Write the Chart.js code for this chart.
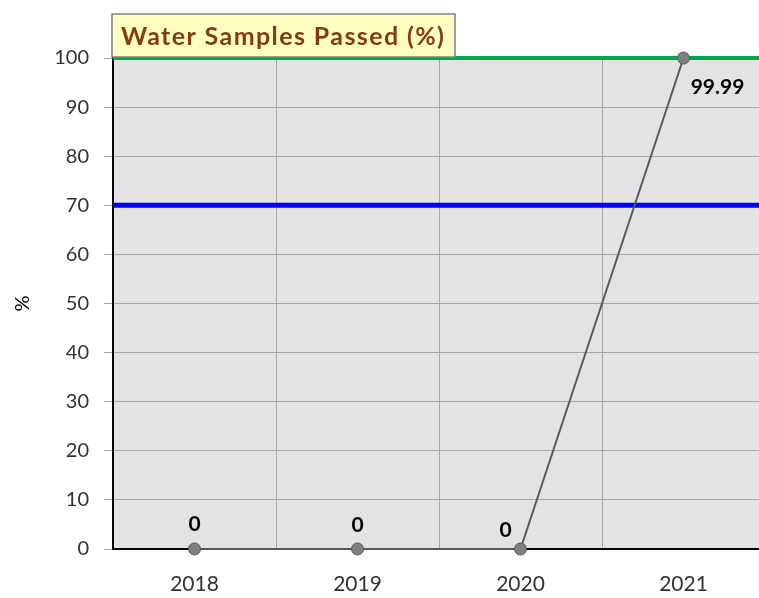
<!DOCTYPE html>
<html>
<head>
<meta charset="utf-8">
<script src="https://cdn.jsdelivr.net/npm/chart.js@4"></script>
<style>
  html, body { margin: 0; padding: 0; background: #fff; overflow: hidden; }
  #wrap { position: relative; width: 772px; height: 598px; }
</style>
</head>
<body>
<div id="wrap"><canvas id="waterChart"></canvas></div>
<script>
const years = ['2018', '2019', '2020', '2021'];
const passedPct = [0, 0, 0, 99.99];
const yTicks = [0, 10, 20, 30, 40, 50, 60, 70, 80, 90, 100];
const targetPct = [70];
const maxPct = [100];
const chartTitle = 'Water Samples Passed (%)';

// grey plot background
const plotBg = {
    id: 'plotBg',
    beforeDraw(chart) {
        const { ctx, chartArea: a } = chart;
        ctx.save();
        ctx.fillStyle = '#e3e3e3';
        ctx.fillRect(a.left, a.top, a.right - a.left, a.bottom - a.top);
        ctx.restore();
    }
};

// the two reference lines at 70 and 100
const refLines = {
    id: 'refLines',
    beforeDatasetsDraw(chart) {
        const { ctx, chartArea: a, scales } = chart;
        const draw = (v, color, w) => {
            const y = scales.y.getPixelForValue(v);
            ctx.save();
            ctx.strokeStyle = color;
            ctx.lineWidth = w;
            ctx.beginPath();
            ctx.moveTo(a.left, y);
            ctx.lineTo(a.right, y);
            ctx.stroke();
            ctx.restore();
        };
        targetPct.forEach(v => draw(v, '#0000ff', 5));
        maxPct.forEach(v => draw(v, '#00a650', 4));
    }
};

// point value labels + title box
const labelsAndTitle = {
    id: 'labelsAndTitle',
    afterDraw(chart) {
        const { ctx } = chart;
        const pts = chart.getDatasetMeta(0).data;
        const offs = [[0, -25], [0, -24], [-15, -19], [34, 29]];
        ctx.save();
        ctx.font = 'bold 21px Lato, "Open Sans", sans-serif';
        ctx.fillStyle = '#000';
        ctx.textAlign = 'center';
        ctx.textBaseline = 'middle';
        pts.forEach((p, i) => {
            const o = offs[i] || [0, -20];
            ctx.fillText(String(passedPct[i]), p.x + o[0], p.y + o[1]);
        });

        // title box
        ctx.fillStyle = '#ffffc3';
        ctx.strokeStyle = '#808080';
        ctx.lineWidth = 1.5;
        ctx.fillRect(112, 14, 343, 43);
        ctx.strokeRect(112, 14, 343, 43);
        ctx.font = 'bold 25px Lato, "Open Sans", sans-serif';
        ctx.letterSpacing = '1.4px';
        ctx.fillStyle = '#843c0c';
        ctx.textAlign = 'left';
        ctx.fillText(chartTitle, 121, 37);
        ctx.restore();
    }
};

const data = {
    labels: years,
    datasets: [{
        label: chartTitle,
        data: passedPct,
        borderColor: '#595959',
        borderWidth: 2,
        pointRadius: 6,
        pointBackgroundColor: '#808080',
        pointBorderColor: '#595959',
        pointBorderWidth: 1,
        tension: 0,
        clip: false
    }]
};

const config = {
    type: 'line',
    data,
    options: {
        responsive: true,
        maintainAspectRatio: false,
        animation: false,
        layout: { padding: { top: 58, right: 0, left: 0, bottom: 0 } },
        plugins: {
            legend: { display: false },
            tooltip: { enabled: false },
            title: { display: false }
        },
        scales: {
            x: {
                offset: true,
                grid: {
                    offset: true,
                    color: '#a6a6a6',
                    lineWidth: 1,
                    drawTicks: false
                },
                border: { color: '#000', width: 2 },
                ticks: {
                    color: '#333',
                    font: { family: 'Lato, "Open Sans", sans-serif', size: 21 },
                    padding: 23,
                    maxRotation: 0
                },
                afterFit(s) { s.height = 49; }
            },
            y: {
                min: 0,
                max: 100,
                afterBuildTicks(s) { s.ticks = yTicks.map(v => ({ value: v })); },
                grid: {
                    color: '#a6a6a6',
                    lineWidth: 1,
                    tickLength: 9,
                    tickColor: '#a6a6a6'
                },
                border: { color: '#000', width: 2 },
                ticks: {
                    color: '#333',
                    font: { family: 'Lato, "Open Sans", sans-serif', size: 20 },
                    padding: 15
                },
                title: {
                    display: true,
                    text: '%',
                    color: '#000',
                    font: { family: 'Lato, "Open Sans", sans-serif', size: 20 },
                    padding: { top: 11, bottom: 0 }
                },
                afterFit(s) { s.width = 113; }
            }
        }
    },
    plugins: [plotBg, refLines, labelsAndTitle]
};

new Chart(document.getElementById('waterChart'), config);
</script>
</body>
</html>
